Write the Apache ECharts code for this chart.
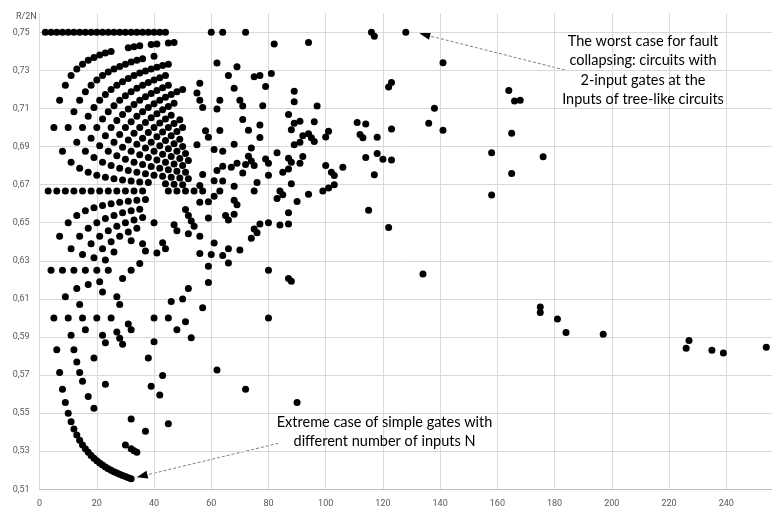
<!DOCTYPE html>
<html>
<head>
<meta charset="utf-8">
<script src="https://cdn.jsdelivr.net/npm/echarts@6/dist/echarts.min.js"></script>
<style>
html,body{margin:0;padding:0;background:#fff;}
#chart{width:772px;height:508px;}
</style>
</head>
<body>
<div id="chart"></div>
<script>
// ---- data: [N, R/2N] ----
const yAxisTitle = 'R/2N';
const xTicks = [0, 20, 40, 60, 80, 100, 120, 140, 160, 180, 200, 220, 240];
const yTicks = [0.51, 0.53, 0.55, 0.57, 0.59, 0.61, 0.63, 0.65, 0.67, 0.69, 0.71, 0.73, 0.75];

// simple gates with N inputs (lower curve)
const simpleGates = [
[6,0.5833],[7,0.5714],[8,0.5625],[9,0.5556],[10,0.55],[11,0.5455],[12,0.5417],[13,0.5385],
[14,0.5357],[15,0.5333],[16,0.5313],[17,0.5294],[18,0.5278],[19,0.5263],[20,0.525],[21,0.5238],
[22,0.5227],[23,0.5217],[24,0.5208],[25,0.52],[26,0.5192],[27,0.5185],[28,0.5179],[29,0.5172],
[30,0.5167],[31,0.5161],[32,0.5156]
];

// dense cluster of small circuits
const smallCircuits = [
[2,0.75],[3,0.6667],[4,0.75],[4,0.625],[5,0.7],[5,0.6],[6,0.75],[6,0.6667],[7,0.7143],[7,0.6429],
[8,0.75],[8,0.6875],[8,0.625],[9,0.7222],[9,0.6667],[9,0.6111],[10,0.75],[10,0.7],[10,0.65],[10,0.6],
[11,0.7273],[11,0.6818],[11,0.6364],[11,0.5909],[12,0.75],[12,0.7083],[12,0.6667],[12,0.625],[12,0.5833],
[13,0.7308],[13,0.6923],[13,0.6538],[13,0.6154],[13,0.5769],
[14,0.75],[14,0.7143],[14,0.6786],[14,0.6429],[14,0.6071],[14,0.5714],
[15,0.7333],[15,0.7],[15,0.6667],[15,0.6333],[15,0.6],[15,0.5667],
[16,0.75],[16,0.7188],[16,0.6875],[16,0.6563],[16,0.625],[16,0.5938],
[17,0.7353],[17,0.7059],[17,0.6765],[17,0.6471],[17,0.6176],[17,0.5588],
[18,0.75],[18,0.7222],[18,0.6944],[18,0.6667],[18,0.6389],
[19,0.7368],[19,0.7105],[19,0.6842],[19,0.6579],[19,0.6316],[19,0.5789],[19,0.5526],
[20,0.75],[20,0.725],[20,0.7],[20,0.675],[20,0.65],[20,0.625],[20,0.6],
[21,0.7381],[21,0.7143],[21,0.6905],[21,0.6667],[21,0.6429],[21,0.619],
[22,0.75],[22,0.7273],[22,0.7045],[22,0.6818],[22,0.6591],[22,0.6364],[22,0.6136],[22,0.5909],
[23,0.7391],[23,0.7174],[23,0.6957],[23,0.6739],[23,0.6522],[23,0.6304],[23,0.587],[23,0.5652],
[24,0.75],[24,0.7292],[24,0.7083],[24,0.6875],[24,0.6667],[24,0.6458],[24,0.625],
[25,0.74],[25,0.72],[25,0.7],[25,0.68],[25,0.66],[25,0.64],[25,0.6],
[26,0.75],[26,0.7308],[26,0.7115],[26,0.6923],[26,0.6731],[26,0.6538],[26,0.6346],
[27,0.7222],[27,0.7037],[27,0.6852],[27,0.6667],[27,0.6481],[27,0.6111],[27,0.5926],
[28,0.75],[28,0.7321],[28,0.7143],[28,0.6964],[28,0.6786],[28,0.6607],[28,0.6429],[28,0.6071],[28,0.5893],
[29,0.7241],[29,0.7069],[29,0.6897],[29,0.6724],[29,0.6552],[29,0.6207],[29,0.5862],
[30,0.75],[30,0.7333],[30,0.7167],[30,0.7],[30,0.6833],[30,0.6667],[30,0.65],[30,0.5333],
[31,0.7419],[31,0.7258],[31,0.7097],[31,0.6935],[31,0.6774],[31,0.6613],[31,0.6452],[31,0.5968],
[32,0.75],[32,0.7344],[32,0.7188],[32,0.7031],[32,0.6875],[32,0.6719],[32,0.6563],[32,0.6406],[32,0.625],[32,0.5938],[32,0.5469],[32,0.5313],
[33,0.7424],[33,0.7273],[33,0.7121],[33,0.697],[33,0.6818],[33,0.6667],[33,0.6515],[33,0.5303],
[34,0.75],[34,0.7353],[34,0.7206],[34,0.7059],[34,0.6912],[34,0.6765],[34,0.6618],[34,0.6471],[34,0.5294],
[35,0.7429],[35,0.7286],[35,0.7143],[35,0.7],[35,0.6857],[35,0.6714],[35,0.6571],[35,0.6286],
[36,0.75],[36,0.7361],[36,0.7222],[36,0.7083],[36,0.6944],[36,0.6806],[36,0.6667],[36,0.6528],[36,0.6389],
[37,0.7297],[37,0.7162],[37,0.7027],[37,0.6892],[37,0.6757],[37,0.6622],[37,0.6351],[37,0.5405],
[38,0.75],[38,0.7237],[38,0.7105],[38,0.6974],[38,0.6842],[38,0.6711],[38,0.5789],
[39,0.7436],[39,0.7308],[39,0.7179],[39,0.7051],[39,0.6923],[39,0.6795],[39,0.5641],
[40,0.75],[40,0.7375],[40,0.725],[40,0.7125],[40,0.7],[40,0.6875],[40,0.675],[40,0.65],[40,0.6],[40,0.5875],
[41,0.7439],[41,0.7317],[41,0.7195],[41,0.7073],[41,0.6951],[41,0.6829],[41,0.6341],
[42,0.75],[42,0.7262],[42,0.7143],[42,0.7024],[42,0.6905],[42,0.6786],[42,0.5595],
[43,0.7326],[43,0.7209],[43,0.7093],[43,0.6977],[43,0.686],[43,0.6744],[43,0.6395],[43,0.5698],
[44,0.75],[44,0.7273],[44,0.7159],[44,0.7045],[44,0.6932],[44,0.6818],[44,0.6705],[44,0.6364],
[45,0.7444],[45,0.7333],[45,0.7222],[45,0.7111],[45,0.7],[45,0.6889],[45,0.6778],[45,0.6667],[45,0.6],[45,0.5444],
[46,0.7174],[46,0.7065],[46,0.6957],[46,0.6848],[46,0.6739],[46,0.6087],
[47,0.7447],[47,0.7128],[47,0.7021],[47,0.6915],[47,0.6809],[47,0.6702],[47,0.6489],
[48,0.7188],[48,0.6979],[48,0.6875],[48,0.6771],[48,0.6667],[48,0.6458],[48,0.5938],
[49,0.7041],[49,0.6939],[49,0.6837],[49,0.6735],
[50,0.72],[50,0.7],[50,0.69],[50,0.68],[50,0.67],[50,0.61],
[51,0.6863],[51,0.6765],[51,0.6667],[51,0.6569],[51,0.598],
[52,0.6827],[52,0.6731],[52,0.6538],[52,0.6442],[52,0.6154],
[53,0.6509],[53,0.5896],[54,0.6667],[54,0.6481]
];

// larger circuits
const largeCircuits = [
[55,0.7182],[56,0.7232],[56,0.7143],[57,0.7105],[58,0.6983],[59,0.6949],[55,0.6909],
[60,0.75],[64,0.75],[72,0.75],[62,0.7339],[69,0.7319],[66,0.7273],[75,0.7267],[77,0.7273],[81,0.7284],
[79,0.7215],[68,0.7206],[82,0.7439],[94,0.7447],[89,0.7191],[89,0.7135],[97,0.7113],[63,0.7143],
[62,0.7097],[70,0.7143],[71,0.7113],[78,0.7115],[87,0.7069],[71,0.7042],[63,0.6984],[73,0.6986],
[77,0.7013],[77,0.6948],[88,0.6989],[91,0.7033],[89,0.7022],[96,0.7031],[92,0.6957],[94,0.6968],
[95,0.6947],[96,0.6927],[89,0.691],[91,0.6923],[100,0.695],[101,0.698],[61,0.6885],[64,0.6875],
[68,0.6912],[74,0.6892],[73,0.6849],[74,0.6824],[75,0.68],[72,0.6806],[69,0.6812],[67,0.6791],
[64,0.6797],[71,0.6761],[79,0.6835],[80,0.6813],[80,0.675],[83,0.6867],[87,0.6839],[88,0.6818],
[92,0.6848],[91,0.6813],[85,0.6765],[87,0.6782],[88,0.6705],[100,0.68],[102,0.6765],[103,0.6748],
[106,0.6792],[99,0.6667],[101,0.6683],[103,0.6699],[94,0.6649],[90,0.6611],[87,0.6552],[87,0.6494],
[84,0.6488],[83,0.6627],[84,0.6667],[85,0.6647],[80,0.65],[77,0.6494],[76,0.6711],[75,0.6667],
[74,0.6419],[75,0.6467],[76,0.6447],[69,0.6594],[66,0.6515],[65,0.6538],[68,0.6544],[68,0.6618],
[68,0.6691],[61,0.6721],[64,0.6719],[61,0.6639],[63,0.6667],[59,0.6525],[62,0.6774],[57,0.6754],
[56,0.6696],[57,0.6667],[56,0.6607],[59,0.661],[56,0.6429],[56,0.6339],[60,0.6333],[64,0.6328],
[66,0.6364],[70,0.6357],[61,0.6393],[59,0.6271],[59,0.6186],[66,0.6288],[57,0.6053],[80,0.625],
[80,0.6],[87,0.6207],[88,0.6193],[62,0.5726],[72,0.5625],[90,0.5556],
[111,0.7027],[112,0.6964],[113,0.6947],[114,0.7018],[114,0.6842],
[116,0.75],[117,0.7479],[128,0.75],[141,0.734],[122,0.7213],[123,0.7236],[164,0.7195],[166,0.7139],
[168,0.7143],[138,0.7101],[136,0.7022],[141,0.6986],[118,0.6949],[123,0.6992],[165,0.697],[118,0.6864],
[120,0.6833],[123,0.6829],[117,0.6752],[158,0.6867],[165,0.6758],[176,0.6847],[158,0.6646],[115,0.6565],
[122,0.6475],[134,0.6231],[175,0.6057],[175,0.6029],[181,0.5994],[184,0.5924],[197,0.5914],[226,0.5841],
[227,0.5881],[235,0.583],[239,0.5816],[254,0.5846]
];

const noteWorst = 'The worst case for fault\ncollapsing: circuits with\n2-input gates at the\nInputs of tree-like circuits';
const noteSimple = 'Extreme case of simple gates with\ndifferent number of inputs N';

// ---- chart ----
const chart = echarts.init(document.getElementById('chart'), null, {renderer: 'canvas'});
const labelColor = '#595959';
const gridColor = '#d9d9d9';
const dotStyle = {color: '#000000', opacity: 1};
function scatter(name, data) {
  return {name: name, type: 'scatter', data: data, symbol: 'circle', symbolSize: 7,
          itemStyle: dotStyle, silent: true, animation: false, large: false};
}
function arrow(x1, y1, x2, y2) {
  // dashed line from (x1,y1) to the tip (x2,y2) with a filled head
  const dx = x1 - x2, dy = y1 - y2, len = Math.sqrt(dx*dx + dy*dy);
  const ux = dx/len, uy = dy/len, px = -uy, py = ux;
  const hl = 11, hw = 4;
  const bx = x2 + ux*hl, by = y2 + uy*hl;
  return [
    {type: 'line', shape: {x1: x1, y1: y1, x2: bx, y2: by}, silent: true,
     style: {stroke: '#7f7f7f', lineWidth: 1, lineDash: [3, 2]}},
    {type: 'polygon', shape: {points: [[x2, y2], [bx + px*hw, by + py*hw], [bx - px*hw, by - py*hw]]},
     silent: true, style: {fill: '#000000'}}
  ];
}
const option = {
  animation: false,
  backgroundColor: '#ffffff',
  grid: {left: 39.6, right: 0, top: 13.3, bottom: 18.7, containLabel: false},
  xAxis: {
    type: 'value', min: 0, max: 256, interval: 20,
    axisLine: {show: true, lineStyle: {color: '#bfbfbf', width: 1}},
    axisTick: {show: false},
    axisLabel: {color: labelColor, fontSize: 9, fontFamily: 'Roboto', margin: 9.5, showMaxLabel: false,
      formatter: function (v) { return xTicks.indexOf(v) >= 0 ? String(v) : ''; }},
    splitLine: {show: true, lineStyle: {color: gridColor, width: 1}}
  },
  yAxis: {
    type: 'value', min: 0.51, max: 0.76, interval: 0.02,
    axisLine: {show: false}, axisTick: {show: false},
    axisLabel: {color: labelColor, fontSize: 9, fontFamily: 'Roboto', margin: 10, showMaxLabel: false,
      formatter: function (v) {
        const r = Math.round(v*100)/100;
        return yTicks.some(function (t) { return Math.abs(t - r) < 1e-6; }) ? r.toFixed(2).replace('.', ',') : '';
      }},
    splitLine: {show: true, showMaxLine: false, showMinLine: false, lineStyle: {color: gridColor, width: 1}}
  },
  series: [
    scatter('Simple gates', simpleGates),
    scatter('Small circuits', smallCircuits),
    scatter('Large circuits', largeCircuits)
  ],
  graphic: [
    {type: 'text', x: 16, y: 16.5, silent: true,
     style: {text: yAxisTitle, align: 'left', verticalAlign: 'middle', fill: labelColor,
             font: '9px Roboto'}},
    {type: 'text', x: 643, y: 32.1, silent: true, z: 10,
     style: {text: noteWorst, align: 'center', verticalAlign: 'top', fill: '#000000',
             font: '14.5px Lato', lineHeight: 19.1}},
    {type: 'text', x: 384.5, y: 413.2, silent: true, z: 10,
     style: {text: noteSimple, align: 'center', verticalAlign: 'top', fill: '#000000',
             font: '14.5px Lato', lineHeight: 19}}
  ].concat(arrow(565, 70, 419.3, 33.3)).concat(arrow(278.3, 443.3, 136.7, 477.3))
};
chart.setOption(option);
</script>
</body>
</html>
